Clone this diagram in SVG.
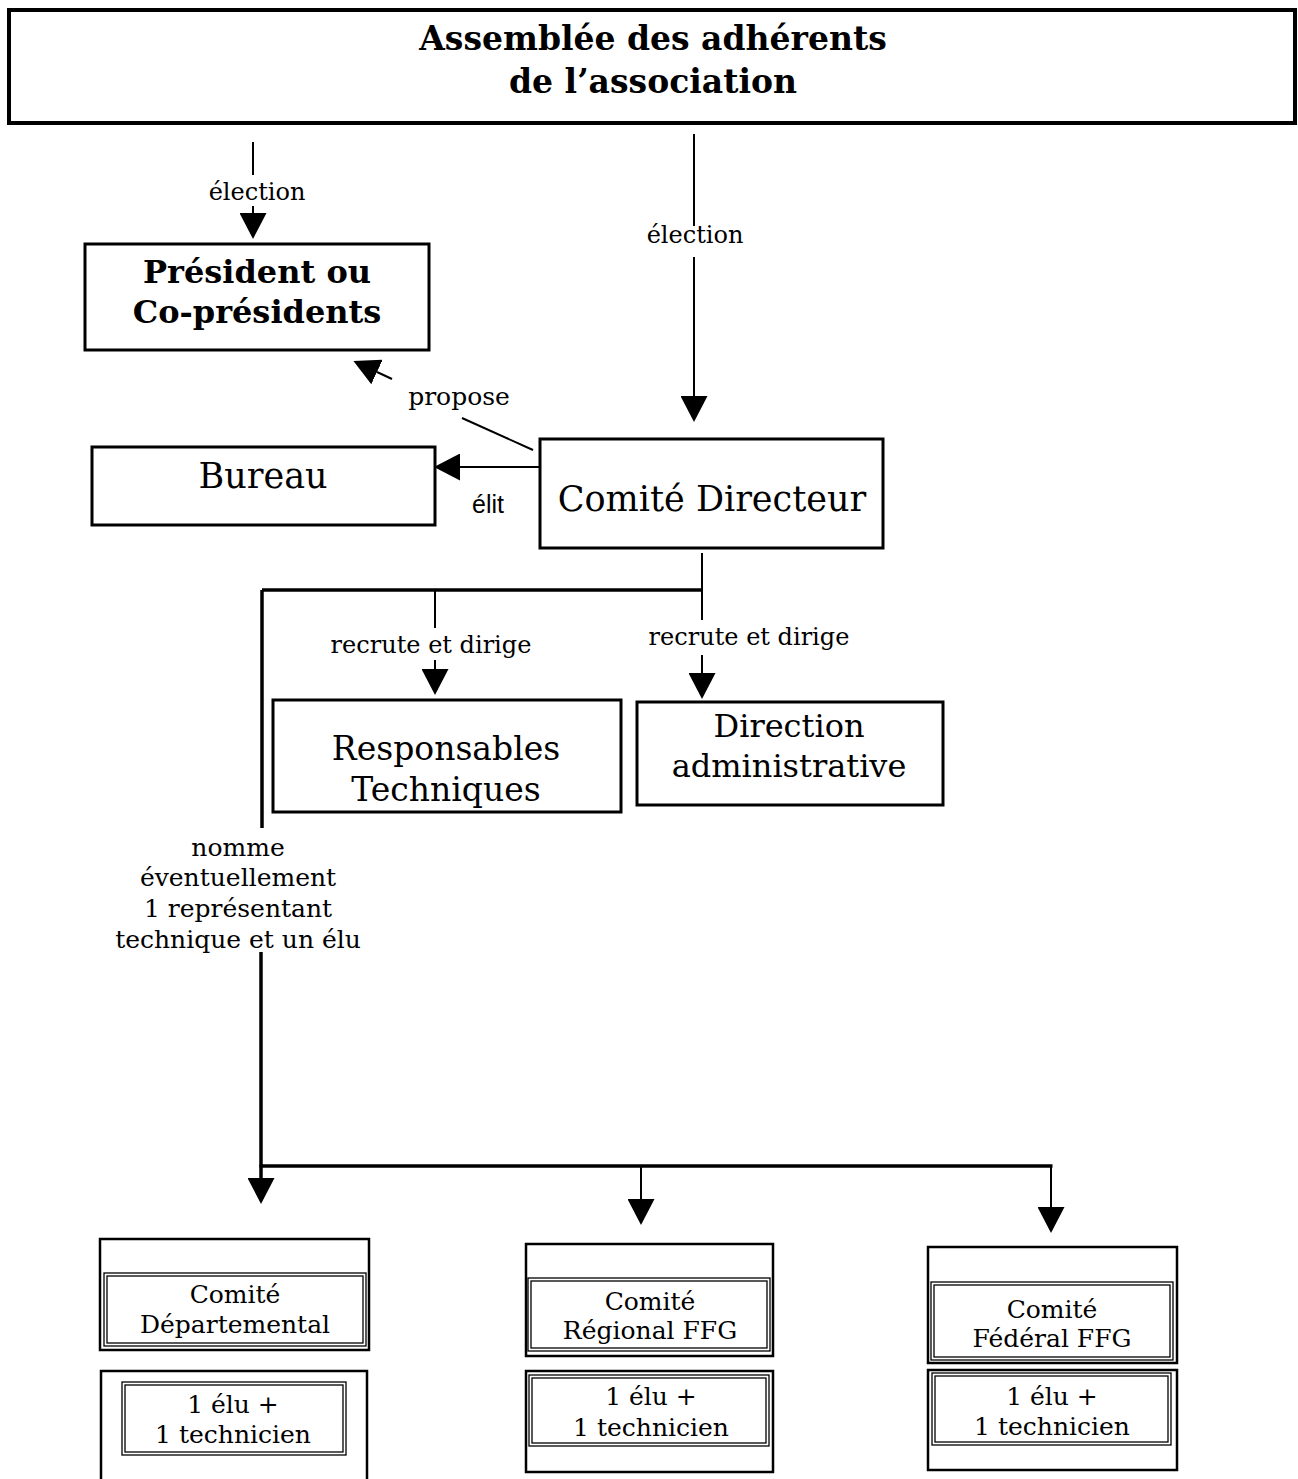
<svg xmlns="http://www.w3.org/2000/svg" width="1298" height="1479" viewBox="0 0 1298 1479">
<defs>
<style>
.box{fill:#fff;stroke:#000;stroke-width:3}
.obox{fill:#fff;stroke:#000;stroke-width:2.5}
.dbl{fill:none;stroke:#000;stroke-width:1.3}
.ln{fill:none;stroke:#000;stroke-width:2}
.lnb{fill:none;stroke:#000;stroke-width:3.5}
.t{font-family:'DejaVu Serif',serif;text-anchor:middle;fill:#000}
.b{font-weight:bold}
.s{font-family:'Liberation Sans',Arial,sans-serif;text-anchor:middle;fill:#000}
</style>
<marker id="arr" viewBox="0 0 26 27" refX="0" refY="13.5" markerWidth="26" markerHeight="27" markerUnits="userSpaceOnUse" orient="auto">
<path d="M0,0 L26,13.5 L0,27 z" fill="#000"/>
</marker>
</defs>
<rect width="1298" height="1479" fill="#fff"/>

<g id="connectors">
<path class="ln" d="M253,142 V175"/>
<path class="ln" d="M253,206 V213" marker-end="url(#arr)"/>
<path class="ln" d="M694,134 V226"/>
<path class="ln" d="M694,257 V396" marker-end="url(#arr)"/>
<path class="ln" d="M533,450 L462,418"/>
<path class="ln" d="M392,379 L377,372" marker-end="url(#arr)"/>
<path class="ln" d="M540,467 H460" marker-end="url(#arr)"/>
<path class="ln" d="M702,553 V620"/>
<path class="lnb" d="M262,590 H703"/>
<path class="ln" d="M435,590 V628"/>
<path class="ln" d="M435,660 V669" marker-end="url(#arr)"/>
<path class="ln" d="M702,655 V673" marker-end="url(#arr)"/>
<path class="lnb" d="M262,590 V828"/>
<path class="lnb" d="M261,952 V1178" marker-end="url(#arr)"/>
<path class="lnb" d="M259.5,1166 H1052.5"/>
<path class="ln" d="M641,1166 V1199" marker-end="url(#arr)"/>
<path class="ln" d="M1051,1166 V1207" marker-end="url(#arr)"/>
<text class="t" x="257" y="200" font-size="24">élection</text>
<text class="t" x="695" y="243" font-size="24">élection</text>
<text class="t" x="459" y="405" font-size="25">propose</text>
<text class="s" x="488" y="513" font-size="25">élit</text>
<text class="t" x="431" y="653" font-size="24">recrute et dirige</text>
<text class="t" x="749" y="645" font-size="24">recrute et dirige</text>
<text class="t" font-size="25"><tspan x="238" y="856">nomme</tspan><tspan x="238" y="886">éventuellement</tspan><tspan x="238" y="917">1 représentant</tspan><tspan x="238" y="948">technique et un élu</tspan></text>
</g>

<g id="assemblee">
<rect x="9" y="10" width="1286" height="113" fill="#fff" stroke="#000" stroke-width="4"/>
<text class="t b" x="653" y="50" font-size="33">Assemblée des adhérents</text>
<text class="t b" x="653" y="93" font-size="33">de l’association</text>
</g>

<g id="president">
<rect class="box" x="85" y="244" width="344" height="106"/>
<text class="t b" x="257" y="283" font-size="32">Président ou</text>
<text class="t b" x="257" y="323" font-size="32">Co-présidents</text>
</g>

<g id="bureau">
<rect class="box" x="92" y="447" width="343" height="78"/>
<text class="t" x="263" y="488" font-size="35">Bureau</text>
</g>

<g id="comite-directeur">
<rect class="box" x="540" y="439" width="343" height="109"/>
<text class="t" x="712" y="511" font-size="35">Comité Directeur</text>
</g>

<g id="responsables">
<rect class="box" x="273" y="700" width="348" height="112"/>
<text class="t" x="446" y="760" font-size="33">Responsables</text>
<text class="t" x="446" y="801" font-size="33">Techniques</text>
</g>

<g id="direction">
<rect class="box" x="637" y="702" width="306" height="103"/>
<text class="t" x="789" y="737" font-size="32">Direction</text>
<text class="t" x="789" y="777" font-size="32">administrative</text>
</g>

<g id="comite-departemental">
<rect class="obox" x="100" y="1239" width="269" height="111"/>
<rect class="dbl" x="104" y="1273" width="262" height="73"/>
<rect class="dbl" x="107" y="1276" width="256" height="67"/>
<text class="t" x="235" y="1303" font-size="25">Comité</text>
<text class="t" x="235" y="1333" font-size="25">Départemental</text>
</g>

<g id="departemental-membres">
<rect class="obox" x="101" y="1371" width="266" height="130"/>
<rect class="dbl" x="122" y="1382" width="224" height="73"/>
<rect class="dbl" x="125" y="1385" width="218" height="67"/>
<text class="t" x="233" y="1413" font-size="25">1 élu +</text>
<text class="t" x="233" y="1443" font-size="25">1 technicien</text>
</g>

<g id="comite-regional">
<rect class="obox" x="526" y="1244" width="247" height="112"/>
<rect class="dbl" x="528" y="1278" width="242" height="73"/>
<rect class="dbl" x="531" y="1281" width="236" height="67"/>
<text class="t" x="650" y="1310" font-size="25">Comité</text>
<text class="t" x="650" y="1339" font-size="25">Régional FFG</text>
</g>

<g id="regional-membres">
<rect class="obox" x="526" y="1371" width="247" height="101"/>
<rect class="dbl" x="529" y="1375" width="240" height="71"/>
<rect class="dbl" x="532" y="1378" width="234" height="65"/>
<text class="t" x="651" y="1405" font-size="25">1 élu +</text>
<text class="t" x="651" y="1436" font-size="25">1 technicien</text>
</g>

<g id="comite-federal">
<rect class="obox" x="928" y="1247" width="249" height="116"/>
<rect class="dbl" x="931" y="1282" width="242" height="78"/>
<rect class="dbl" x="934" y="1285" width="236" height="72"/>
<text class="t" x="1052" y="1318" font-size="25">Comité</text>
<text class="t" x="1052" y="1347" font-size="25">Fédéral FFG</text>
</g>

<g id="federal-membres">
<rect class="obox" x="928" y="1370" width="249" height="100"/>
<rect class="dbl" x="932" y="1373" width="239" height="72"/>
<rect class="dbl" x="935" y="1376" width="233" height="66"/>
<text class="t" x="1052" y="1405" font-size="25">1 élu +</text>
<text class="t" x="1052" y="1435" font-size="25">1 technicien</text>
</g>
</svg>
